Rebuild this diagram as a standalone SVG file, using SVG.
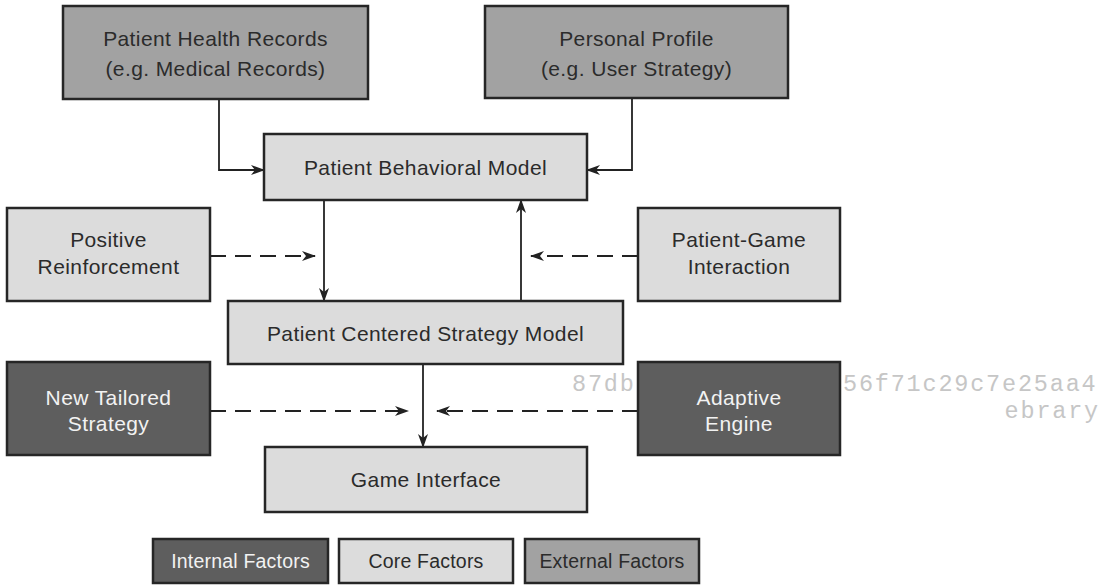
<svg xmlns="http://www.w3.org/2000/svg" width="1109" height="585" viewBox="0 0 1109 585">
  <style>
    .box { stroke: #262626; stroke-width: 2.5; }
    .core { fill: #dcdcdc; }
    .ext { fill: #a2a2a2; }
    .int { fill: #5e5e5e; }
    .lbl { font-family: "Liberation Sans", Arial, sans-serif; font-size: 21px; letter-spacing: 0.4px; text-anchor: middle; fill: #2b2b2b; }
    .lbl.light { fill: #f2f2f2; }
    .leg { font-family: "Liberation Sans", Arial, sans-serif; font-size: 19.5px; letter-spacing: 0.2px; text-anchor: middle; fill: #2b2b2b; }
    .leg.light { fill: #f2f2f2; }
    .wm { font-family: "Liberation Mono", "Courier New", monospace; font-size: 23.5px; letter-spacing: 1.8px; fill: #c6c6c6; }
    .link { fill: none; stroke: #222; stroke-width: 1.8; }
    .dash { stroke-dasharray: 16 9; }
  </style>
  <defs>
    <marker id="arrow" viewBox="0 0 14 10" refX="13" refY="5" markerWidth="14" markerHeight="10" markerUnits="userSpaceOnUse" orient="auto">
      <path d="M0,0 L14,5 L0,10 L4,5 Z" fill="#222"/>
    </marker>
  </defs>

  <rect width="1109" height="585" fill="#ffffff"/>

  <!-- watermark -->
  <g id="watermark">
    <text class="wm" x="572" y="391">87db</text>
    <text class="wm" x="843" y="391">56f71c29c7e25aa4</text>
    <text class="wm" x="1100" y="418" text-anchor="end">ebrary</text>
  </g>

  <!-- connectors -->
  <g id="connectors">
    <path class="link" d="M219,99 V170 H264" marker-end="url(#arrow)"/>
    <path class="link" d="M632,98 V170 H587" marker-end="url(#arrow)"/>
    <path class="link" d="M324,200 V301" marker-end="url(#arrow)"/>
    <path class="link" d="M521,301 V200" marker-end="url(#arrow)"/>
    <path class="link dash" d="M210,256 H315" marker-end="url(#arrow)"/>
    <path class="link dash" d="M638,256 H531" marker-end="url(#arrow)"/>
    <path class="link" d="M423,364 V447" marker-end="url(#arrow)"/>
    <path class="link dash" d="M210,411 H408" marker-end="url(#arrow)"/>
    <path class="link dash" d="M638,411 H437" marker-end="url(#arrow)"/>
  </g>

  <g id="patient-health-records">
    <rect class="box ext" x="63" y="6" width="305" height="93"/>
    <text class="lbl" x="215.5" y="46">Patient Health Records</text>
    <text class="lbl" x="215.5" y="76">(e.g. Medical Records)</text>
  </g>

  <g id="personal-profile">
    <rect class="box ext" x="485" y="6" width="303" height="92"/>
    <text class="lbl" x="636.5" y="46">Personal Profile</text>
    <text class="lbl" x="636.5" y="76">(e.g. User Strategy)</text>
  </g>

  <g id="patient-behavioral-model">
    <rect class="box core" x="264" y="134" width="323" height="66"/>
    <text class="lbl" x="425.5" y="175">Patient Behavioral Model</text>
  </g>

  <g id="positive-reinforcement">
    <rect class="box core" x="7" y="208" width="203" height="93"/>
    <text class="lbl" x="108.5" y="247">Positive</text>
    <text class="lbl" x="108.5" y="274">Reinforcement</text>
  </g>

  <g id="patient-game-interaction">
    <rect class="box core" x="638" y="208" width="202" height="93"/>
    <text class="lbl" x="739" y="247">Patient-Game</text>
    <text class="lbl" x="739" y="274">Interaction</text>
  </g>

  <g id="patient-centered-strategy-model">
    <rect class="box core" x="228" y="301" width="395" height="63"/>
    <text class="lbl" x="425.5" y="341">Patient Centered Strategy Model</text>
  </g>

  <g id="new-tailored-strategy">
    <rect class="box int" x="7" y="362" width="203" height="93"/>
    <text class="lbl light" x="108.5" y="405">New Tailored</text>
    <text class="lbl light" x="108.5" y="431">Strategy</text>
  </g>

  <g id="adaptive-engine">
    <rect class="box int" x="638" y="362" width="202" height="93"/>
    <text class="lbl light" x="739" y="405">Adaptive</text>
    <text class="lbl light" x="739" y="431">Engine</text>
  </g>

  <g id="game-interface">
    <rect class="box core" x="265" y="447" width="322" height="65"/>
    <text class="lbl" x="426" y="487">Game Interface</text>
  </g>

  <!-- legend -->
  <g id="legend-internal">
    <rect class="box int" x="153" y="539" width="175" height="44"/>
    <text class="leg light" x="240.5" y="568">Internal Factors</text>
  </g>
  <g id="legend-core">
    <rect class="box core" x="339" y="539" width="174" height="44"/>
    <text class="leg" x="426" y="568">Core Factors</text>
  </g>
  <g id="legend-external">
    <rect class="box ext" x="525" y="539" width="174" height="44"/>
    <text class="leg" x="612" y="568">External Factors</text>
  </g>
</svg>
